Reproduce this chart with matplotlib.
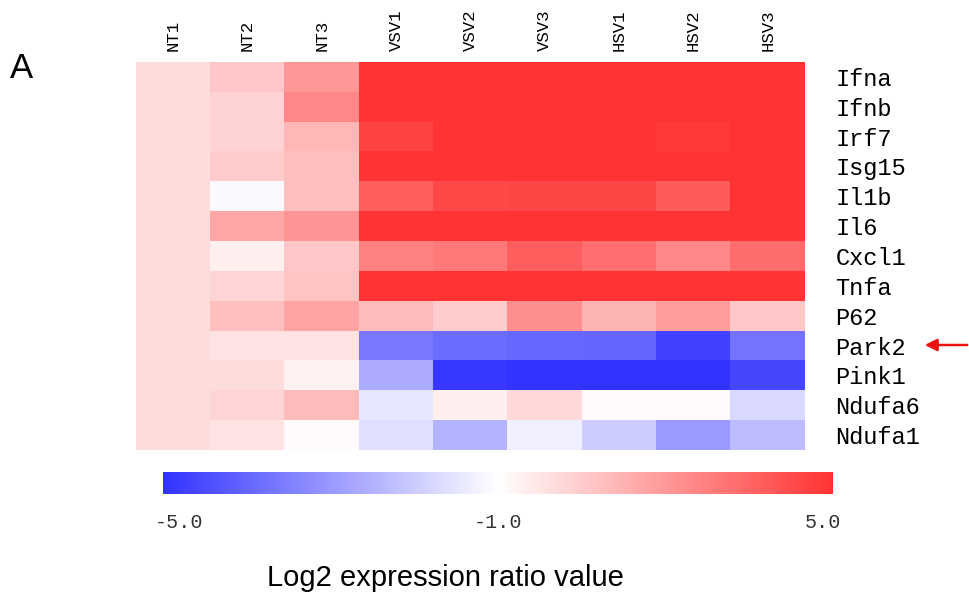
import numpy as np
import matplotlib
matplotlib.use("Agg")
import matplotlib.pyplot as plt
from matplotlib.colors import LinearSegmentedColormap, TwoSlopeNorm

# =========================
# DATA (log2 ratio)
# =========================
samples = ["NT1", "NT2", "NT3", "VSV1", "VSV2", "VSV3", "HSV1", "HSV2", "HSV3"]
genes = ["Ifna", "Ifnb", "Irf7", "Isg15", "Il1b", "Il6", "Cxcl1", "Tnfa",
         "P62", "Park2", "Pink1", "Ndufa6", "Ndufa1"]

ifna   = [0, 0.6, 2.0, 5, 5, 5, 5, 5, 5]
ifnb   = [0, 0.3, 2.5, 5, 5, 5, 5, 5, 5]
irf7   = [0, 0.3, 1.1, 4.5, 5, 5, 5, 4.8, 5]
isg15  = [0, 0.5, 0.85, 5, 5, 5, 5, 5, 5]
il1b   = [0, -1.1, 0.85, 3.7, 4.3, 4.4, 4.4, 3.8, 5]
il6    = [0, 1.55, 2.1, 5, 5, 5, 5, 5, 5]
cxcl1  = [0, -0.55, 0.6, 2.7, 2.9, 3.7, 3.2, 2.5, 3.3]
tnfa   = [0, 0.25, 0.75, 5, 5, 5, 5, 5, 5]
p62    = [0, 0.85, 1.7, 1.0, 0.5, 2.25, 1.2, 1.9, 0.6]
park2  = [0, -0.2, -0.2, -3.65, -3.9, -3.95, -4.0, -4.7, -3.75]
pink1  = [0, 0.0, -0.6, -2.65, -4.9, -5, -5, -5, -4.6]
ndufa6 = [0, 0.25, 1.0, -1.45, -0.55, 0.1, -0.9, -0.9, -1.75]
ndufa1 = [0, -0.2, -0.9, -1.6, -2.5, -1.3, -2.0, -3.0, -2.3]

values = np.array([ifna, ifnb, irf7, isg15, il1b, il6, cxcl1, tnfa,
                   p62, park2, pink1, ndufa6, ndufa1])

cbar_ticks = [-5.0, -1.0, 5.0]

# =========================
# FIGURE
# =========================
cmap = LinearSegmentedColormap.from_list("bwr2", ["#3333ff", "#ffffff", "#ff3333"])
norm = TwoSlopeNorm(vmin=-5, vcenter=-1, vmax=5)

W, H = 970, 603
fig = plt.figure(figsize=(W / 100, H / 100), dpi=100)

def fig_rect(x0, y0, x1, y1):
    return [x0 / W, 1 - y1 / H, (x1 - x0) / W, (y1 - y0) / H]

ax = fig.add_axes(fig_rect(136, 62, 805, 450))
im = ax.imshow(values, cmap=cmap, norm=norm, aspect="auto", interpolation="nearest")

ax.set_xticks(range(len(samples)), labels=samples)
ax.set_yticks(range(len(genes)), labels=genes)
ax.tick_params(axis="x", top=True, bottom=False, labeltop=True, labelbottom=False,
               length=0, pad=8, labelrotation=90)
ax.tick_params(axis="y", right=True, left=False, labelright=True, labelleft=False,
               length=0, pad=22)
for tick in ax.xaxis.get_major_ticks():
    for lab in (tick.label1, tick.label2):
        lab.set_fontfamily("Liberation Mono")
        lab.set_fontsize(12.5)
for tick in ax.yaxis.get_major_ticks():
    for lab in (tick.label1, tick.label2):
        lab.set_fontfamily("Liberation Mono")
        lab.set_fontsize(17)
for s in ax.spines.values():
    s.set_visible(False)

# colour bar
cax = fig.add_axes(fig_rect(163, 472, 833, 494))
cb = fig.colorbar(im, cax=cax, orientation="horizontal")
cb.outline.set_visible(False)
cb.set_ticks([])
lab_kw = dict(transform=cax.transAxes, va="top", family="Liberation Mono",
              fontsize=14.5, color="#333333")
cax.text(-0.012, -0.85, f"{cbar_ticks[0]:.1f}", ha="left", **lab_kw)
cax.text(0.5, -0.85, f"{cbar_ticks[1]:.1f}", ha="center", **lab_kw)
cax.text(1.012, -0.85, f"{cbar_ticks[2]:.1f}", ha="right", **lab_kw)

fig.text(445 / W, 1 - 578 / H, "Log2 expression ratio value", ha="center", va="center",
         family="Liberation Sans", fontsize=21)
fig.text(10 / W, 1 - 68 / H, "A", ha="left", va="center", family="Liberation Sans", fontsize=25)

# red arrow pointing at Park2
fig.add_artist(plt.Annotation("", xy=(922 / W, 1 - 345 / H), xytext=(970 / W, 1 - 345 / H),
                              xycoords="figure fraction", textcoords="figure fraction",
                              arrowprops=dict(arrowstyle="-|>", color="#ee1111", lw=1.8,
                                              mutation_scale=18)))

plt.savefig("out.png", dpi=100)
